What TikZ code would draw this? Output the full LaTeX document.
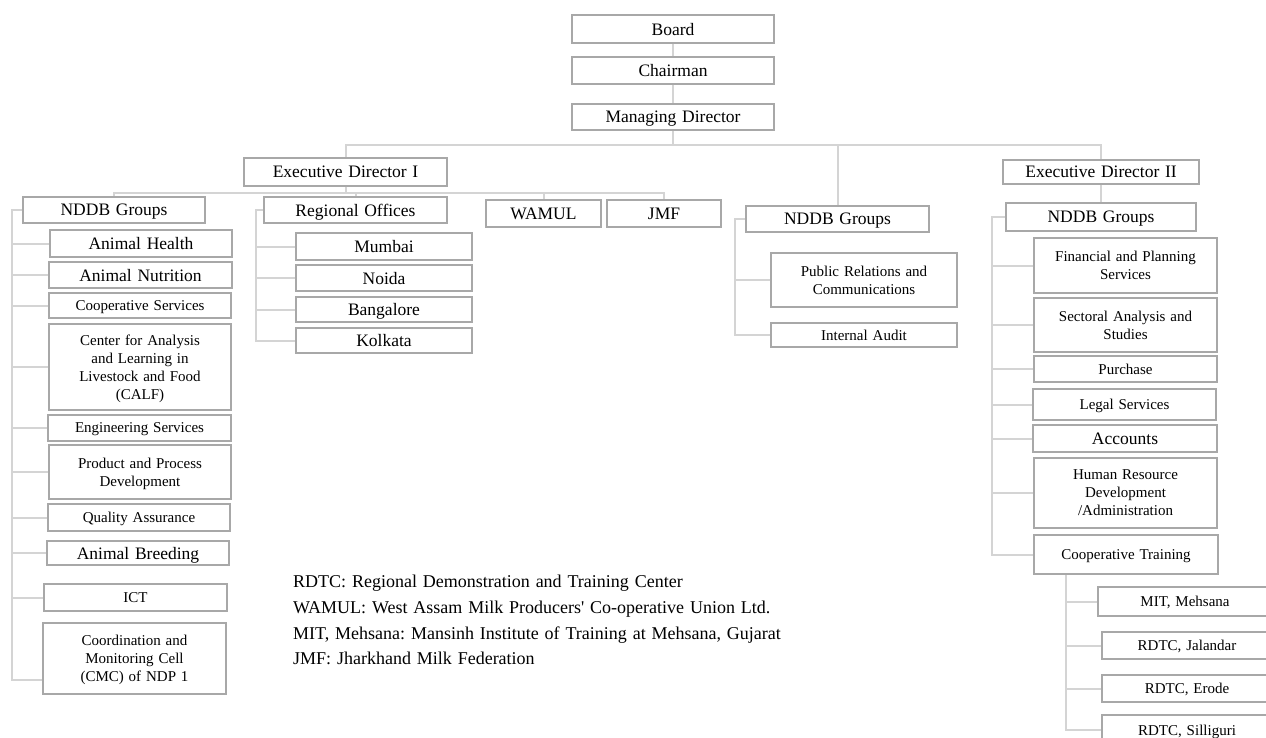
\documentclass[tikz,border=0pt]{standalone}
\usepackage{fontspec}
\setmainfont{Liberation Serif}[Ligatures=TeXOff]
\newfontfamily\boxsmallfont{Liberation Serif}[Ligatures=TeXOff, WordSpace=1.9]
\newfontfamily\boxbigfont{Liberation Serif}[Ligatures=TeXOff, WordSpace=1.3]
\definecolor{boxgray}{HTML}{A8A8A8}
\definecolor{linegray}{HTML}{D4D4D4}
\tikzset{
  ob/.style={draw=boxgray, line width=1.5pt, inner sep=0pt, align=center, text depth=-3pt, font=\boxbigfont\fontsize{17.5}{20}\selectfont},
  obs/.style={ob, font=\boxsmallfont\fontsize{15}{18}\selectfont},
  conn/.style={draw=linegray, line width=2pt},
  legtext/.style={anchor=base west, inner sep=0pt, font=\fontsize{18}{20}\selectfont}
}
\newcommand\orgbox[7]{\node[#1, minimum width={(#5-#3)*1pt}, minimum height={(#6-#4)*1pt}] (#2) at ({(#3+#5)/2},{(#4+#6)/2}) {#7};}
\begin{document}
\frenchspacing
\begin{tikzpicture}[x=1pt,y=-1pt]
\useasboundingbox (0,0) rectangle (1266,738);
\clip (0,0) rectangle (1266,738);
\fill[white] (0,0) rectangle (1266,738);

% top
\orgbox{ob}{board}{572}{15}{774}{43}{Board}
\orgbox{ob}{chair}{572}{57}{774}{84}{Chairman}
\orgbox{ob}{md}{572}{104}{774}{130}{Managing Director}
\orgbox{ob}{edi}{244}{158}{447}{186}{Executive Director I}
\orgbox{ob}{edii}{1003}{160}{1199}{184}{Executive Director II}
\orgbox{ob}{nddbi}{23}{197}{205}{223}{NDDB Groups}
\orgbox{ob}{ro}{264}{197}{447}{223}{Regional Offices}
\orgbox{ob}{wamul}{486}{200}{601}{227}{WAMUL}
\orgbox{ob}{jmf}{607}{200}{721}{227}{JMF}
\orgbox{ob}{nddbm}{746}{206}{929}{232}{NDDB Groups}
\orgbox{ob}{nddbii}{1006}{203}{1196}{231}{NDDB Groups}

% left column
\orgbox{ob}{ah}{50}{230}{232}{257}{Animal Health}
\orgbox{ob}{an}{49}{262}{232}{288}{Animal Nutrition}
\orgbox{obs}{cs}{49}{293}{231}{318}{Cooperative Services}
\orgbox{obs}{calf}{49}{324}{231}{410}{Center for Analysis\\and Learning in\\Livestock and Food\\(CALF)}
\orgbox{obs}{es}{48}{415}{231}{441}{Engineering Services}
\orgbox{obs}{ppd}{49}{445}{231}{499}{Product and Process\\Development}
\orgbox{obs}{qa}{48}{504}{230}{531}{Quality Assurance}
\orgbox{ob}{ab}{47}{541}{229}{565}{Animal Breeding}
\orgbox{obs}{ict}{44}{584}{227}{611}{ICT}
\orgbox{obs}{cmc}{43}{623}{226}{694}{Coordination and\\Monitoring Cell\\(CMC) of NDP 1}

% regional offices
\orgbox{ob}{mum}{296}{233}{472}{260}{Mumbai}
\orgbox{ob}{noi}{296}{265}{472}{291}{Noida}
\orgbox{ob}{ban}{296}{297}{472}{322}{Bangalore}
\orgbox{ob}{kol}{296}{328}{472}{353}{Kolkata}

% middle NDDB
\orgbox{obs}{pr}{771}{253}{957}{307}{Public Relations and\\Communications}
\orgbox{obs}{ia}{771}{323}{957}{347}{Internal Audit}

% right NDDB
\orgbox{obs}{fps}{1034}{238}{1217}{293}{Financial and Planning\\Services}
\orgbox{obs}{sas}{1034}{298}{1217}{352}{Sectoral Analysis and\\Studies}
\orgbox{obs}{pur}{1034}{356}{1217}{382}{Purchase}
\orgbox{obs}{leg}{1033}{389}{1216}{420}{Legal Services}
\orgbox{ob}{acc}{1033}{425}{1217}{452}{Accounts}
\orgbox{obs}{hrd}{1034}{458}{1217}{528}{Human Resource\\Development\\/Administration}
\orgbox{obs}{ct}{1034}{535}{1218}{574}{Cooperative Training}
\orgbox{obs}{mit}{1098}{587}{1272}{616}{MIT, Mehsana}
\orgbox{obs}{jal}{1102}{632}{1272}{659}{RDTC, Jalandar}
\orgbox{obs}{ero}{1102}{675}{1272}{702}{RDTC, Erode}
\orgbox{obs}{sil}{1102}{715}{1272}{745}{RDTC, Silliguri}

% connectors: top
\coordinate (h1) at (674,145);
\coordinate (h2) at (346,193);
\draw[conn] (board.south) -- (chair.north);
\draw[conn] (chair.south) -- (md.north);
\draw[conn] (md.south) -- (md.south |- h1);
\draw[conn] (edi.north) |- (h1) -| (edii.north);
\draw[conn] (nddbm.north) -- (nddbm.north |- h1);
\draw[conn] (edi.south) -- (edi.south |- h2);
\draw[conn] (nddbi.north) |- (jmf.north |- h2) -- (jmf.north);
\draw[conn] (ro.north) -- (ro.north |- h2);
\draw[conn] (wamul.north) -- (wamul.north |- h2);
\draw[conn] (edii.south) -- (nddbii.north);

% left spine
\coordinate (sL) at ([xshift=-10pt]nddbi.west);
\draw[conn] (nddbi.west) -- (sL) |- ([yshift=-21.5pt]cmc.west);
\foreach \n in {ah,an,cs,calf,es,ppd,qa,ab,ict}
  \draw[conn] (\n.west) -- (\n.west -| sL);

% regional spine
\coordinate (sR) at ([xshift=-7pt]ro.west);
\draw[conn] (ro.west) -- (sR) |- (kol.west);
\foreach \n in {mum,noi,ban}
  \draw[conn] (\n.west) -- (\n.west -| sR);

% middle spine
\coordinate (sM) at ([xshift=-10pt]nddbm.west);
\draw[conn] (nddbm.west) -- (sM) |- (ia.west);
\draw[conn] (pr.west) -- (pr.west -| sM);

% right spine
\coordinate (sII) at ([xshift=-13pt]nddbii.west);
\draw[conn] (nddbii.west) -- (sII) |- (ct.west);
\foreach \n in {fps,sas,pur,leg,acc,hrd}
  \draw[conn] (\n.west) -- (\n.west -| sII);

% cooperative training spine
\coordinate (sCT) at ([xshift=33pt]ct.south west);
\draw[conn] (sCT) |- (sil.west);
\foreach \n in {mit,jal,ero}
  \draw[conn] (\n.west) -- (\n.west -| sCT);

% legend
\node[legtext] (leg1) at (293,587) {RDTC: Regional Demonstration and Training Center};
\node[legtext] (leg2) at (293,613) {WAMUL: West Assam Milk Producers' Co-operative Union Ltd.};
\node[legtext] (leg3) at (293,639) {MIT, Mehsana: Mansinh Institute of Training at Mehsana, Gujarat};
\node[legtext] (leg4) at (293,664) {JMF: Jharkhand Milk Federation};
\end{tikzpicture}
\end{document}
